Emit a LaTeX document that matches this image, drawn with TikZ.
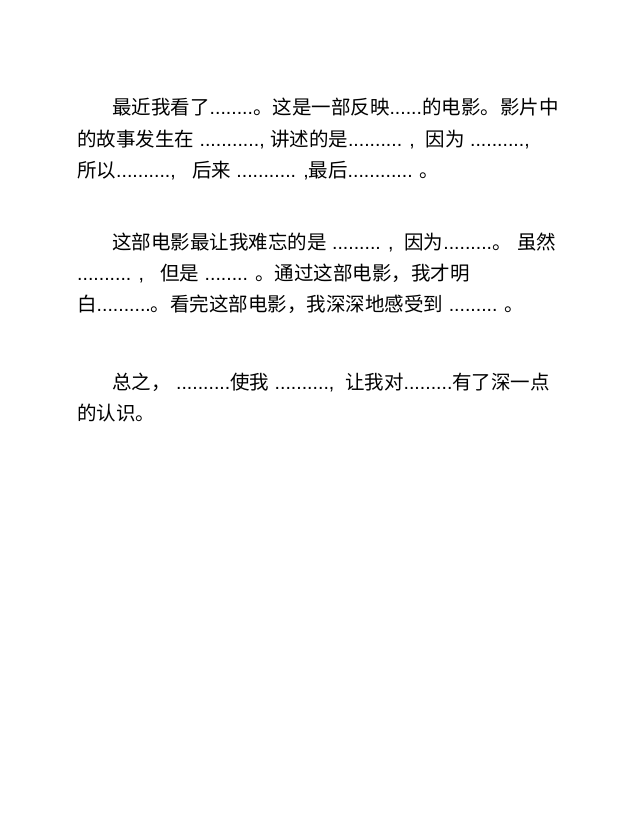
\documentclass[tikz,border=0pt]{standalone}
\usepackage{fontspec}
\setmainfont{Liberation Sans}
\newfontfamily\cjk{Noto Sans CJK SC}
\newcommand\zh[1]{{\cjk #1}}
\begin{document}
\begin{tikzpicture}[x=1pt,y=-1pt,
  txt/.style={anchor=base west,inner sep=0pt,font=\fontsize{19.5}{22}\selectfont}]
\useasboundingbox[fill=white] (0,0) rectangle (638,826);
\node[txt] (l1) at (112,115) {\zh{最近我看了}........\zh{。这是一部反映}......\zh{的电影。影片中}};
\node[txt] (l2) at (77,146.5) {\zh{的故事发生在} ..........., \zh{讲述的是}.......... , \ \zh{因为} ..........,};
\node[txt] (l3) at (77,178) {\zh{所以}..........,\ \ \ \zh{后来} ........... ,\zh{最后}............ \zh{。}};
\node[txt] (m1) at (112,249) {\zh{这部电影最让我难忘的是} ......... ,\ \ \zh{因为}.........\zh{。} \zh{虽然}};
\node[txt] (m2) at (77,280) {.......... ,\ \ \ \zh{但是} ........ \zh{。通过这部电影，我才明}};
\node[txt] (m3) at (77,311) {\zh{白}..........\zh{。看完这部电影，我深深地感受到} ......... \zh{。}};
\node[txt] (n1) at (112,389) {\zh{总之，} ..........\zh{使我} ..........,\ \ \zh{让我对}.........\zh{有了深一点}};
\node[txt] (n2) at (77,420) {\zh{的认识。}};
\end{tikzpicture}
\end{document}
